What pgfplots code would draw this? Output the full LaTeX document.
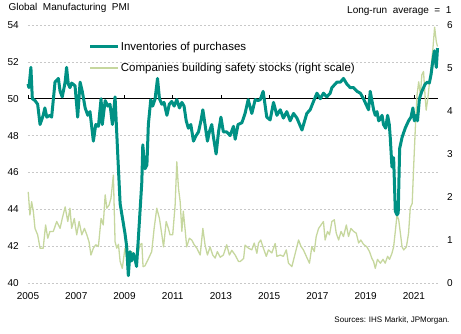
\documentclass[border=0pt]{standalone}
\usepackage{fontspec}
\setmainfont{Liberation Sans}
\usepackage{pgfplots}
\pgfplotsset{compat=1.18}
\definecolor{tealc}{RGB}{0,145,132}
\definecolor{lgreen}{RGB}{198,215,158}
\definecolor{gridc}{RGB}{200,200,200}
\pgfplotsset{base/.style={scale only axis, width=410pt, height=258pt, at={(0pt,0pt)}, anchor=south west,
  xmin=2005, xmax=2022, axis line style={draw=none}, major tick length=0pt, tick style={draw=none}, clip=false,
  /pgf/number format/assume math mode=true, /pgf/number format/1000 sep={},
  tick label style={font=\fontsize{10}{12}\selectfont}}}
\begin{document}
\begin{tikzpicture}
\path[use as bounding box] (-28pt,-50pt) rectangle (433pt,283pt);
\begin{axis}[base, ymin=40, ymax=54, ytick={40,42,...,54}, xtick={2005,2007,...,2021},
  ymajorgrids, major grid style={gridc, dash pattern=on 2pt off 2pt, line width=0.6pt},
  yticklabel style={xshift=-5.7pt}, xticklabel style={yshift=-6pt}]
\addplot[black, line width=0.7pt] coordinates {(2005,50) (2022,50)};
\pgfplotsinvokeforeach{2005,2007,...,2021}{\draw[black, line width=0.6pt] (axis cs:#1,50) -- ++(0pt,3.5pt);}
\end{axis}
\begin{axis}[base, ymin=0, ymax=6, ytick={0,1,...,6}, yticklabel pos=right, xtick=\empty,
  yticklabel style={xshift=5.7pt}]
\addplot[lgreen, line width=1.3pt, line join=round] coordinates {
(2005.01,2.12) (2005.08,1.58) (2005.15,1.89) (2005.22,1.67) (2005.29,1.27) (2005.40,1.12) (2005.50,0.81)
(2005.63,0.81) (2005.73,1.35) (2005.82,1.04) (2005.91,1.20) (2006.05,1.20) (2006.19,1.43) (2006.33,1.27)
(2006.42,1.50) (2006.54,1.77) (2006.65,1.43) (2006.74,1.74) (2006.81,1.27) (2006.92,1.50) (2007.02,1.12)
(2007.12,1.43) (2007.23,1.12) (2007.34,1.27) (2007.44,1.12) (2007.53,0.96) (2007.61,0.65) (2007.71,0.81)
(2007.81,0.89) (2007.92,0.85) (2008.03,1.50) (2008.12,1.35) (2008.20,2.05) (2008.27,1.74) (2008.36,1.81)
(2008.44,1.97) (2008.54,2.51) (2008.61,0.96) (2008.68,0.81) (2008.75,0.90) (2008.82,0.50) (2008.91,0.34)
(2009.02,0.81) (2009.09,0.58) (2009.19,0.65) (2009.30,0.73) (2009.37,0.55) (2009.44,0.65) (2009.52,0.60)
(2009.65,0.89) (2009.72,0.92) (2009.77,0.38) (2009.85,0.40) (2009.98,0.55) (2010.13,0.73) (2010.23,1.27)
(2010.34,1.74) (2010.45,1.50) (2010.55,1.12) (2010.62,0.84) (2010.73,1.43) (2010.82,1.27) (2010.89,1.12)
(2011.00,1.12) (2011.10,1.81) (2011.17,2.82) (2011.24,2.20) (2011.31,1.89) (2011.38,1.20) (2011.44,1.67)
(2011.51,1.27) (2011.58,0.84) (2011.69,1.04) (2011.79,1.00) (2011.89,0.89) (2012.00,0.81) (2012.14,0.65)
(2012.25,1.27) (2012.34,0.89) (2012.44,0.65) (2012.55,0.84) (2012.66,0.65) (2012.76,0.58) (2012.85,0.73)
(2012.97,0.60) (2013.10,0.65) (2013.24,0.89) (2013.35,0.65) (2013.45,0.76) (2013.59,0.65) (2013.73,0.50)
(2013.80,0.50) (2013.94,0.57) (2014.00,0.88) (2014.14,0.81) (2014.28,0.77) (2014.38,0.93) (2014.49,0.69)
(2014.56,0.93) (2014.65,1.00) (2014.76,0.81) (2014.88,0.62) (2014.97,0.77) (2015.11,0.70) (2015.25,0.92)
(2015.32,0.62) (2015.46,0.65) (2015.59,0.62) (2015.71,0.77) (2015.80,0.46) (2015.94,0.38) (2016.08,0.69)
(2016.22,1.00) (2016.32,0.85) (2016.42,0.77) (2016.54,0.62) (2016.67,0.46) (2016.77,0.85) (2016.87,0.73)
(2016.95,1.08) (2017.05,1.27) (2017.15,1.35) (2017.25,1.43) (2017.32,1.00) (2017.42,1.20) (2017.50,1.12)
(2017.60,1.43) (2017.70,1.47) (2017.78,1.16) (2017.88,1.00) (2017.98,1.20) (2018.08,1.08) (2018.20,1.35)
(2018.29,1.08) (2018.39,1.27) (2018.50,1.20) (2018.61,1.16) (2018.71,0.93) (2018.80,1.00) (2018.91,0.90)
(2019.05,0.84) (2019.16,0.73) (2019.26,0.57) (2019.33,0.50) (2019.40,0.34) (2019.49,0.55) (2019.61,0.46)
(2019.72,0.55) (2019.81,0.46) (2019.91,0.62) (2019.99,0.55) (2020.09,0.69) (2020.16,0.84) (2020.23,1.20)
(2020.30,1.58) (2020.37,1.47) (2020.44,1.16) (2020.51,0.84) (2020.58,0.77) (2020.69,0.84) (2020.78,1.16)
(2020.85,1.75) (2020.93,1.85) (2020.99,2.70) (2021.06,3.60) (2021.13,4.37) (2021.20,4.68) (2021.27,4.37)
(2021.33,4.84) (2021.40,4.92) (2021.47,4.30) (2021.51,4.02) (2021.58,4.30) (2021.65,4.68) (2021.71,4.99)
(2021.79,5.46) (2021.86,5.95) (2021.93,5.61) (2021.98,5.50)
};
\end{axis}
\begin{axis}[base, ymin=40, ymax=54, xtick=\empty, ytick=\empty,
  legend style={at={(axis description cs:0.148,0.94)}, anchor=north west, draw=none, fill=none,
    inner sep=0pt, row sep=9.5pt, font=\fontsize{11.5}{13}\selectfont,
    nodes={inner sep=1pt}},
  legend cell align=left,
  legend image code/.code={\draw[#1] (0pt,0pt) -- (28pt,0pt);}]
\addplot[tealc, line width=3pt, line join=round] coordinates {
(2005.00,50.8) (2005.04,50.6) (2005.12,51.7) (2005.18,50.0) (2005.29,49.9) (2005.40,49.7) (2005.50,48.6)
(2005.63,49.1) (2005.70,49.5) (2005.78,49.0) (2005.91,49.1) (2005.98,49.0) (2006.12,50.9) (2006.26,51.1)
(2006.33,50.4) (2006.42,50.1) (2006.54,50.9) (2006.60,51.7) (2006.67,50.8) (2006.74,50.6) (2006.81,50.85)
(2006.95,50.7) (2007.06,49.0) (2007.16,50.9) (2007.25,50.4) (2007.37,49.5) (2007.48,49.1) (2007.57,49.3)
(2007.71,47.7) (2007.81,48.6) (2007.92,48.5) (2008.03,50.0) (2008.08,48.6) (2008.20,49.9) (2008.31,49.6)
(2008.40,49.7) (2008.50,48.6) (2008.61,50.1) (2008.72,47.0) (2008.82,44.3) (2008.92,43.5) (2009.02,42.7)
(2009.09,42.0) (2009.16,40.4) (2009.23,41.7) (2009.30,41.2) (2009.37,41.6) (2009.44,41.3) (2009.50,40.9)
(2009.57,42.3) (2009.65,44.0) (2009.72,45.5) (2009.76,47.5) (2009.80,46.9) (2009.85,46.2) (2009.93,46.4)
(2009.99,48.6) (2010.09,49.95) (2010.17,49.6) (2010.27,50.0) (2010.37,51.1) (2010.45,50.0) (2010.55,49.7)
(2010.64,49.8) (2010.76,49.1) (2010.86,49.7) (2010.96,49.85) (2011.06,49.6) (2011.17,49.95) (2011.28,49.5)
(2011.38,49.8) (2011.47,49.6) (2011.56,48.8) (2011.65,48.4) (2011.75,48.6) (2011.86,47.7) (2011.97,48.0)
(2012.07,48.2) (2012.17,48.8) (2012.25,49.4) (2012.34,48.6) (2012.44,47.7) (2012.52,48.2) (2012.62,48.6)
(2012.68,48.0) (2012.80,47.0) (2012.90,48.2) (2013.00,49.0) (2013.10,48.2) (2013.24,48.2) (2013.38,48.0)
(2013.52,48.5) (2013.59,47.8) (2013.71,48.6) (2013.87,48.7) (2014.00,49.2) (2014.13,49.95) (2014.28,49.2)
(2014.42,49.95) (2014.54,49.9) (2014.63,49.95) (2014.75,50.4) (2014.90,49.0) (2015.04,48.85) (2015.18,49.8)
(2015.32,49.1) (2015.46,49.4) (2015.59,48.95) (2015.73,49.3) (2015.87,48.8) (2016.01,49.2) (2016.15,48.95)
(2016.36,48.3) (2016.56,49.2) (2016.70,49.4) (2016.84,49.86) (2016.98,50.3) (2017.12,50.0) (2017.25,50.3)
(2017.39,50.1) (2017.53,50.3) (2017.60,50.6) (2017.67,50.7) (2017.81,50.9) (2017.95,50.9) (2018.02,51.0)
(2018.08,51.1) (2018.22,50.8) (2018.36,50.6) (2018.50,50.6) (2018.64,50.4) (2018.78,50.3) (2018.91,50.0)
(2019.05,49.6) (2019.12,49.4) (2019.19,50.4) (2019.26,49.9) (2019.33,49.4) (2019.40,49.1) (2019.47,49.3)
(2019.54,48.8) (2019.61,48.9) (2019.68,49.1) (2019.74,48.6) (2019.83,48.4) (2019.91,49.1) (2019.98,48.6)
(2020.02,47.9) (2020.09,46.3) (2020.16,46.8) (2020.23,43.9) (2020.30,43.7) (2020.35,43.8) (2020.41,47.3)
(2020.51,47.9) (2020.64,48.4) (2020.78,48.8) (2020.88,49.0) (2020.96,49.5) (2021.02,48.8) (2021.10,49.1)
(2021.15,48.8) (2021.23,50.0) (2021.33,50.4) (2021.47,50.8) (2021.56,50.9) (2021.64,50.85) (2021.71,51.3)
(2021.78,52.0) (2021.85,52.6) (2021.93,51.7) (2021.98,52.75)
};
\addlegendentry{Inventories of purchases}
\addlegendimage{lgreen, line width=1.3pt}
\addlegendentry{Companies building safety stocks (right scale)}
\end{axis}
\node[anchor=west, font=\fontsize{10}{12}\selectfont] at (-23pt,275pt) {Global\ \ Manufacturing\ \ PMI};
\node[anchor=east, font=\fontsize{10}{12}\selectfont] at (427pt,272pt) {Long-run\ \ average\ \ =\ \ 1};
\node[anchor=east, font=\fontsize{8}{10}\selectfont] at (425pt,-37pt) {Sources: IHS Markit, JPMorgan.};
\end{tikzpicture}
\end{document}
